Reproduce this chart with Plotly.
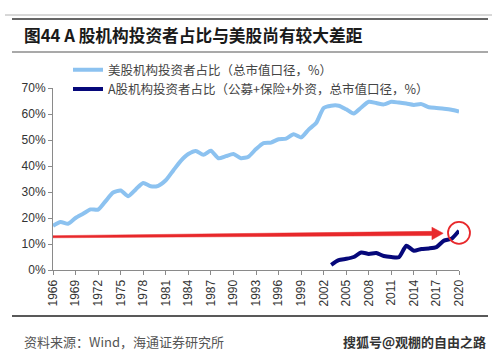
import plotly.graph_objects as go

# ---- data ----
us_years = list(range(1966, 2021))
us_share = [17.0, 18.5, 17.8, 20.0, 21.6, 23.3, 23.2, 26.5, 29.8, 30.6,
            28.4, 31.0, 33.5, 32.2, 32.4, 34.5, 38.3, 42.0, 44.6, 45.8,
            44.3, 45.9, 43.0, 43.8, 44.6, 43.0, 43.6, 46.5, 48.8, 49.0,
            50.3, 50.5, 52.2, 51.0, 54.0, 56.5, 62.3, 63.2, 63.2, 61.8,
            60.2, 62.5, 64.7, 64.2, 63.7, 64.7, 64.4, 64.0, 63.5, 63.8,
            62.6, 62.3, 62.0, 61.6, 60.9]

cn_years = list(range(2003, 2021))
cn_share = [2.0, 3.8, 4.3, 5.0, 6.7, 6.2, 6.5, 5.4, 5.0, 4.9,
            9.3, 7.4, 8.1, 8.3, 8.8, 11.3, 12.0, 15.1]

tick_years = list(range(1966, 2021, 3))
y_ticks = [0, 10, 20, 30, 40, 50, 60, 70]

us_name = "美股机构投资者占比（总市值口径，%）"
cn_name = "A股机构投资者占比（公募+保险+外资，总市值口径，%）"
title_text = "图44 A 股机构投资者占比与美股尚有较大差距"
source_text = "资料来源：Wind，海通证券研究所"
watermark_text = "搜狐号@观棚的自由之路"

# red arrow annotation parameters (data units)
arrow_x_start, arrow_x_head, arrow_x_tip = 1966, 2016.4, 2017.9
arrow_y_start, arrow_y_end = 12.8, 14.1
arrow_half_start, arrow_half_end, arrow_head_half = 0.4, 0.8, 2.4
circle_x, circle_y = 2020, 14.3

RED = "#E8282B"

fig = go.Figure()

fig.add_trace(go.Scatter(
    x=us_years, y=us_share, mode="lines", name=us_name,
    line=dict(color="#8CC2F0", width=4, shape="spline", smoothing=0.6),
))
fig.add_trace(go.Scatter(
    x=cn_years, y=cn_share, mode="lines", name=cn_name,
    line=dict(color="#06087A", width=4, shape="spline", smoothing=0.6),
))

# tapered red arrow (polygon built from the parameters)
def lvl(x):
    t = (x - arrow_x_start) / (arrow_x_tip - arrow_x_start)
    return arrow_y_start + t * (arrow_y_end - arrow_y_start)

ax = [arrow_x_start, arrow_x_head, arrow_x_head, arrow_x_tip,
      arrow_x_head, arrow_x_head, arrow_x_start, arrow_x_start]
ay = [lvl(arrow_x_start) + arrow_half_start,
      lvl(arrow_x_head) + arrow_half_end,
      lvl(arrow_x_head) + arrow_head_half,
      lvl(arrow_x_tip),
      lvl(arrow_x_head) - arrow_head_half,
      lvl(arrow_x_head) - arrow_half_end,
      lvl(arrow_x_start) - arrow_half_start,
      lvl(arrow_x_start) + arrow_half_start]
fig.add_trace(go.Scatter(
    x=ax, y=ay, mode="lines", fill="toself", fillcolor=RED,
    line=dict(color=RED, width=0.5), showlegend=False, hoverinfo="skip",
))
fig.add_trace(go.Scatter(
    x=[circle_x], y=[circle_y], mode="markers", showlegend=False,
    marker=dict(symbol="circle-open", size=22, color=RED,
                line=dict(color=RED, width=1.8)),
    cliponaxis=False, hoverinfo="skip",
))

axis_font = dict(family="Liberation Sans, Arial, sans-serif", size=12, color="#333333")

fig.update_xaxes(
    range=[1966, 2020], tickmode="array", tickvals=tick_years,
    ticktext=[str(y) for y in tick_years], tickangle=-90,
    showgrid=False, zeroline=False, showline=True, linecolor="#8a8a8a", linewidth=1,
    ticks="outside", ticklen=4, tickcolor="#8a8a8a", tickfont=axis_font,
)
fig.update_yaxes(
    range=[0, 70], tickmode="array", tickvals=y_ticks,
    ticktext=[f"{v}%" for v in y_ticks],
    showgrid=False, zeroline=False, showline=True, linecolor="#8a8a8a", linewidth=1,
    ticks="outside", ticklen=4, tickcolor="#8a8a8a", tickfont=axis_font,
)

cjk = "Noto Sans CJK SC, sans-serif"

def hline(py, x0, x1, color, width):
    fig.add_shape(type="line", xref="paper", yref="paper",
                  x0=(x0 - 53) / 406, x1=(x1 - 53) / 406,
                  y0=(270 - py) / 182, y1=(270 - py) / 182,
                  line=dict(color=color, width=width))

hline(15, 5, 492, "#b0b0b0", 1)
hline(19, 12, 488, "#333333", 1.5)
hline(52, 12, 488, "#555555", 1.2)
hline(316, 12, 488, "#222222", 1.5)

fig.add_annotation(text=f"<b>{title_text}</b>", xref="paper", yref="paper",
                   x=(22 - 53) / 406, y=(270 - 35) / 182, xanchor="left", yanchor="middle",
                   showarrow=False, font=dict(family=cjk, size=16.7, color="#1a1a1a"))
fig.add_annotation(text=source_text, xref="paper", yref="paper",
                   x=(22 - 53) / 406, y=(270 - 341) / 182, xanchor="left", yanchor="middle",
                   showarrow=False, font=dict(family=cjk, size=13, color="#555555"))
fig.add_annotation(text=f"<b>{watermark_text}</b>", xref="paper", yref="paper",
                   x=(488 - 53) / 406, y=(270 - 341) / 182, xanchor="right", yanchor="middle",
                   showarrow=False, font=dict(family=cjk, size=13, color="#333333"))

fig.update_layout(
    width=500, height=356, autosize=False,
    margin=dict(l=53, r=41, t=88, b=86),
    paper_bgcolor="white", plot_bgcolor="white",
    showlegend=True,
    legend=dict(x=(68 - 53) / 406, y=1.18, xanchor="left", yanchor="top",
                bgcolor="rgba(0,0,0,0)", font=dict(family=cjk, size=12.5, color="#444444"),
                tracegroupgap=0, itemwidth=30),
)

fig.write_html("out.html", config={"displayModeBar": False},
               post_script="document.body.style.margin='0';")
